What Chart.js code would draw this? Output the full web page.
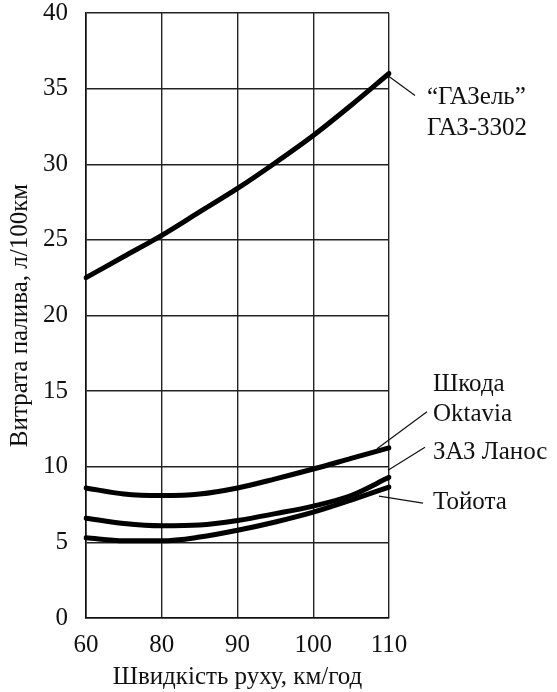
<!DOCTYPE html>
<html>
<head>
<meta charset="utf-8">
<script src="https://cdn.jsdelivr.net/npm/chart.js@4.4.1/dist/chart.umd.min.js"></script>
<style>
  html, body { margin: 0; padding: 0; background: #fff; }
  #wrap { width: 557px; height: 692px; }
</style>
</head>
<body>
<div id="wrap"><canvas id="c" width="557" height="692"></canvas></div>
<script>
// Speed positions (km/h); the axis is broken: 60–80 spans the same width as 80–90
const speeds = ['60', '70', '80', '85', '90', '95', '100', '105', '110'];
const shownTicks = ['60', '80', '90', '100', '110'];

const gazel  = [22.5, 23.9, 25.3, 26.85, 28.4, 30.1, 31.9, 33.9, 36.0];
const skoda  = [8.6, 8.2, 8.1, 8.2, 8.6, 9.2, 9.85, 10.55, 11.25];
const lanos  = [6.6, 6.25, 6.1, 6.15, 6.45, 6.9, 7.4, 8.1, 9.3];
const toyota = [5.3, 5.1, 5.1, 5.35, 5.8, 6.35, 7.0, 7.8, 8.65];

const xTitle = 'Швидкість руху, км/год';
const yTitle = 'Витрата палива, л/100км';

const FONT = "'Liberation Serif', 'Times New Roman', serif";
const FS = 25;

// Labels: dataset index, point index, leader start offset, leader end offset, text lines
const callouts = [
  { ds: 0, pt: 8, s: [0, 3],   e: [26, 22],  lines: ['“ГАЗель”', 'ГАЗ-3302'], tx: 38, ty: [24, 55] },
  { ds: 1, pt: 8, s: [-12, 1], e: [38, -36], lines: ['Шкода', 'Oktavia'],     tx: 44, ty: [-63, -33] },
  { ds: 2, pt: 8, s: [-1, -7], e: [36, -30], lines: ['ЗАЗ Ланос'],            tx: 44, ty: [-25] },
  { ds: 3, pt: 8, s: [-10, 9], e: [34, 16],  lines: ['Тойота'],               tx: 44, ty: [15] }
];

const calloutPlugin = {
  id: 'callouts',
  afterDraw(chart) {
    const ctx = chart.ctx;
    ctx.save();
    ctx.strokeStyle = '#111';
    ctx.lineWidth = 1.2;
    ctx.fillStyle = '#111';
    ctx.font = FS + 'px ' + FONT;
    ctx.textAlign = 'left';
    ctx.textBaseline = 'middle';
    callouts.forEach(c => {
      const p = chart.getDatasetMeta(c.ds).data[c.pt];
      ctx.beginPath();
      ctx.moveTo(p.x + c.s[0], p.y + c.s[1]);
      ctx.lineTo(p.x + c.e[0], p.y + c.e[1]);
      ctx.stroke();
      c.lines.forEach((t, i) => ctx.fillText(t, p.x + c.tx, p.y + c.ty[i]));
    });
    ctx.restore();
  }
};

const mk = (data) => ({
  data,
  borderColor: '#000',
  borderWidth: 5,
  pointRadius: 0,
  fill: false,
  cubicInterpolationMode: 'monotone',
  borderCapStyle: 'round'
});

new Chart(document.getElementById('c'), {
  type: 'line',
  data: {
    labels: speeds,
    datasets: [mk(gazel), mk(skoda), mk(lanos), mk(toyota)]
  },
  options: {
    responsive: false,
    animation: false,
    devicePixelRatio: 1,
    layout: { padding: { top: 13, right: 168, left: 0, bottom: 0 } },
    plugins: { legend: { display: false }, tooltip: { enabled: false } },
    scales: {
      x: {
        type: 'category',
        offset: false,
        grid: {
          color: (ctx) => (ctx.tick && shownTicks.includes(speeds[ctx.index])) ? '#222' : 'rgba(0,0,0,0)',
          lineWidth: 1.4,
          drawTicks: false
        },
        border: { color: '#111', width: 1.6 },
        ticks: {
          autoSkip: false,
          maxRotation: 0,
          padding: 12,
          color: '#111',
          font: { family: FONT, size: FS },
          callback: function(v, i) { return shownTicks.includes(speeds[i]) ? speeds[i] : ''; }
        },
        title: {
          display: true, text: xTitle, color: '#111',
          font: { family: FONT, size: FS }, padding: { top: 2, bottom: 0 }
        },
        afterFit: (s) => { s.height = 74; }
      },
      y: {
        min: 0, max: 40,
        grid: { color: '#222', lineWidth: 1.4, drawTicks: false },
        border: { color: '#111', width: 1.6 },
        ticks: {
          stepSize: 5, padding: 18, color: '#111',
          font: { family: FONT, size: FS }
        },
        title: {
          display: true, text: yTitle, color: '#111',
          font: { family: FONT, size: FS }, padding: { top: 5, bottom: 4 }
        },
        afterFit: (s) => { s.width = 86; s.paddingTop = 0; s.paddingBottom = 0; }
      }
    }
  },
  plugins: [calloutPlugin]
});
</script>
</body>
</html>
